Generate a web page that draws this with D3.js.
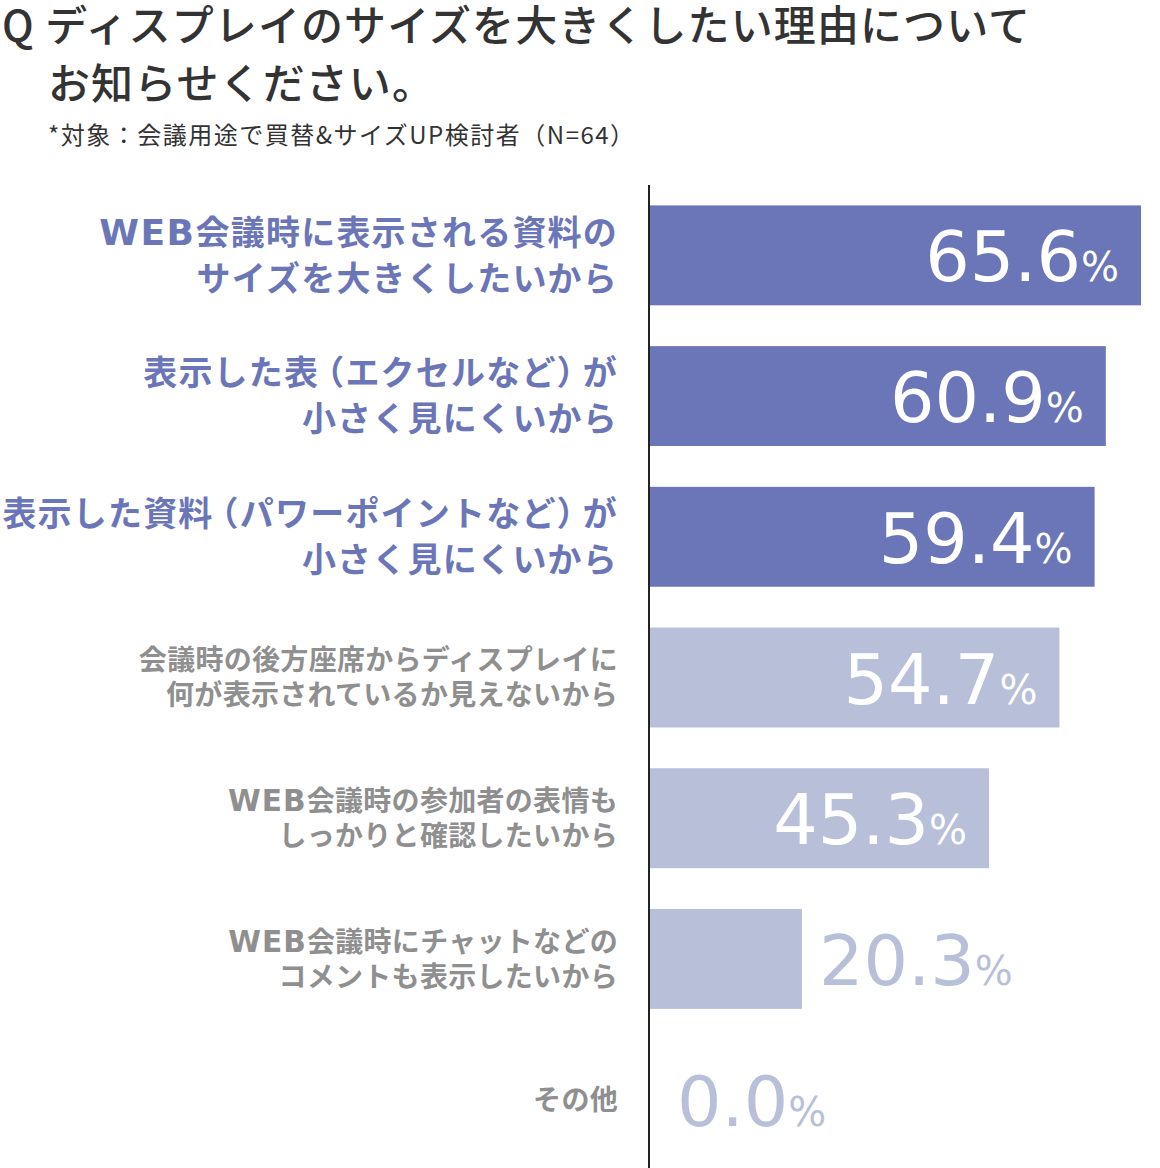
<!DOCTYPE html>
<html><head><meta charset="utf-8">
<script src="https://cdn.jsdelivr.net/npm/d3@7"></script>
<style>
body{margin:0;background:#fff;}
svg text{font-family:"Noto Sans CJK JP","Noto Sans",sans-serif;}
</style></head>
<body><svg id="c" width="1160" height="1168"></svg>
<script>
const categories = [
  ["WEB会議時に表示される資料の","サイズを大きくしたいから"],
  ["表示した表（エクセルなど）が","小さく見にくいから"],
  ["表示した資料（パワーポイントなど）が","小さく見にくいから"],
  ["会議時の後方座席からディスプレイに","何が表示されているか見えないから"],
  ["WEB会議時の参加者の表情も","しっかりと確認したいから"],
  ["WEB会議時にチャットなどの","コメントも表示したいから"],
  ["その他"]
];
const values = [65.6, 60.9, 59.4, 54.7, 45.3, 20.3, 0.0];
const highlight = [true, true, true, false, false, false, false];
const titleLines = ["Q ディスプレイのサイズを大きくしたい理由について","お知らせください。"];
const subtitle = "*対象：会議用途で買替&サイズUP検討者（N=64）";

const svg = d3.select("#c");
const dark = "#6b76b8", light = "#b8bfd9", grey = "#8f8f8f";
const x0 = 650;
const x = d3.scaleLinear().domain([0, 65.6]).range([x0, 1141]);
const y = d3.scaleBand().domain(d3.range(values.length)).range([185, 1170]).paddingInner(0.29).paddingOuter(0.145);

// title
svg.append("text").attr("x", 2).attr("y", 41).attr("fill", "#333").attr("font-size", 42)
  .attr("font-weight", 500).attr("letter-spacing", 1.1).text(titleLines[0]);
svg.append("text").attr("x", 48).attr("y", 99).attr("fill", "#333").attr("font-size", 42)
  .attr("font-weight", 500).attr("letter-spacing", 1.1).text(titleLines[1]);
svg.append("text").attr("x", 48).attr("y", 144).attr("fill", "#333").attr("font-size", 24)
  .attr("letter-spacing", 1.5).text(subtitle);

// bars
svg.selectAll("rect.bar").data(values).join("rect")
  .attr("x", x0).attr("y", (d, i) => y(i))
  .attr("width", d => x(d) - x0).attr("height", y.bandwidth())
  .attr("fill", (d, i) => highlight[i] ? dark : light);

// axis line
svg.append("line").attr("x1", 649).attr("x2", 649).attr("y1", 185).attr("y2", 1168)
  .attr("stroke", "#222").attr("stroke-width", 2);

// value labels
values.forEach((v, i) => {
  const inside = (x(v) - x0) > 200;
  const t = svg.append("text")
    .attr("y", y(i) + y.bandwidth() / 2 + 26)
    .style("font-family", "'DejaVu Sans',sans-serif")
    .attr("fill", inside ? "#fff" : light);
  if (inside) t.attr("x", x(v) - 22).attr("text-anchor", "end");
  else t.attr("x", x(v) + (v === 0 ? 27 : 17)).attr("text-anchor", "start");
  t.append("tspan").attr("font-size", 70).text(v.toFixed(1));
  t.append("tspan").attr("font-size", 40).text("%");
});

// category labels
categories.forEach((lines, i) => {
  const hi = highlight[i];
  const fs = hi ? 34 : 28;
  const lh = hi ? 46 : 35;
  const ls = hi ? 1.2 : 0.3;
  const cy = y(i) + y.bandwidth() / 2;
  const n = lines.length;
  lines.forEach((ln, j) => {
    const t = svg.append("text")
      .attr("x", 618).attr("text-anchor", "end")
      .attr("y", cy + (j - (n - 1) / 2) * lh + fs * 0.36)
      .attr("font-size", fs).attr("font-weight", "bold")
      .attr("letter-spacing", ls)
      .attr("fill", hi ? dark : grey);
    const pieces = ln.split(/(WEB|（|）)/).filter(s => s.length);
    let after = false;
    pieces.forEach(p => {
      const sp = t.append("tspan").text(p);
      if (p === "WEB") {
        sp.style("font-family", "'DejaVu Sans',sans-serif")
          .attr("font-size", fs * 1.06)
          .attr("letter-spacing", hi ? 1.5 : 1);
      } else if (p === "（") {
        sp.attr("dx", -9);
      } else if (after) {
        sp.attr("dx", -9);
      }
      after = (p === "）");
    });
  });
});
</script></body></html>
